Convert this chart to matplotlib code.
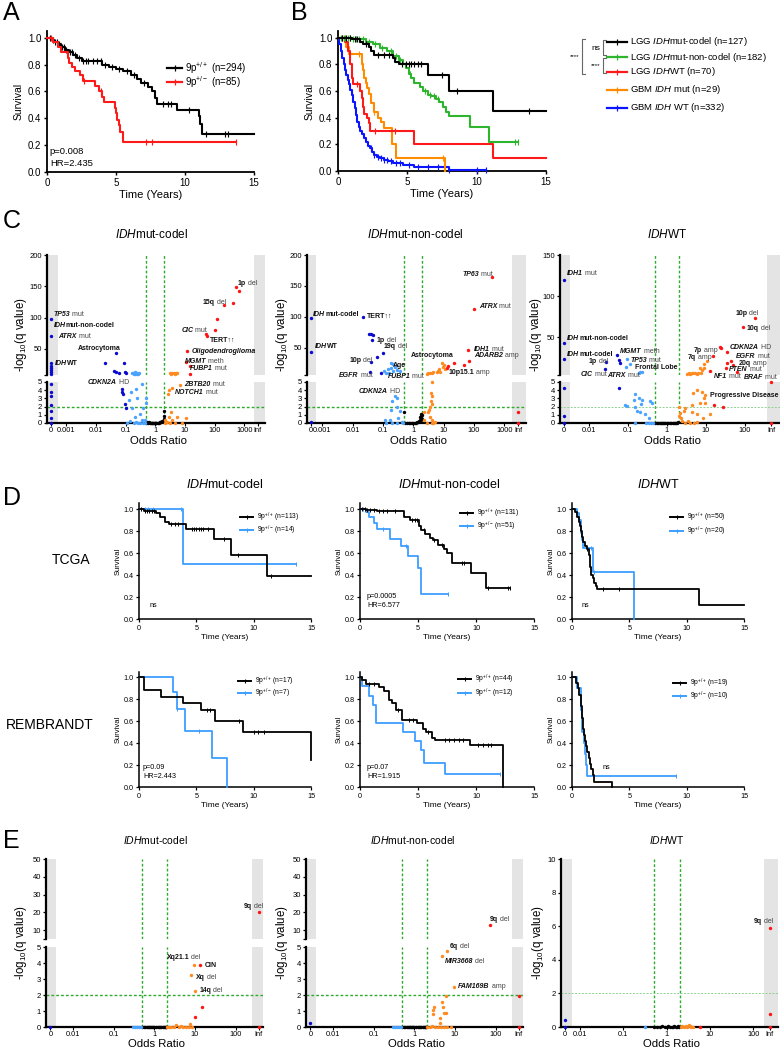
import numpy as np
import matplotlib
matplotlib.use('Agg')
import matplotlib.pyplot as plt
from matplotlib.lines import Line2D
from matplotlib.ticker import NullLocator

plt.rcParams['font.family'] = ['Liberation Sans', 'DejaVu Sans']
plt.rcParams['mathtext.fontset'] = 'custom'
plt.rcParams['mathtext.rm'] = 'Liberation Sans'
plt.rcParams['mathtext.it'] = 'Liberation Sans:italic'
plt.rcParams['mathtext.bf'] = 'Liberation Sans:bold'

# ======================= DATA =======================
# ---- Panel A (KM, 9p status, all LGG) ----
A_pp_t = [0, 0.3, 0.5, 0.8, 1.0, 1.3, 1.6, 1.9, 2.2, 2.5, 4.0, 4.5, 5.0, 5.5, 6.1, 6.5, 6.8, 7.3, 7.6, 7.8, 8.0, 9.4, 11.0, 11.1, 11.2]
A_pp_s = [1.0, 0.98, 0.97, 0.95, 0.93, 0.91, 0.89, 0.87, 0.85, 0.83, 0.80, 0.78, 0.77, 0.75, 0.72, 0.69, 0.66, 0.63, 0.60, 0.55, 0.51, 0.46, 0.42, 0.36, 0.285]
A_pp_end = 15.0
A_pp_c = [0.2, 0.4, 0.6, 0.7, 0.9, 1.1, 1.2, 1.4, 1.7, 1.8, 2.0, 2.3, 2.6, 2.8, 3.0, 3.3, 3.6, 3.9, 4.2, 4.7, 5.2, 5.8, 6.3, 7.0, 8.4, 8.8, 9.0, 10.3, 11.5, 12.9, 13.1]
A_pm_t = [0, 0.4, 0.8, 1.0, 1.5, 1.6, 1.8, 2.0, 2.4, 2.6, 3.5, 3.8, 4.0, 4.1, 4.9, 5.0, 5.1, 5.2, 5.3, 5.5]
A_pm_s = [1.0, 0.97, 0.93, 0.89, 0.85, 0.81, 0.78, 0.75, 0.72, 0.68, 0.64, 0.60, 0.56, 0.52, 0.48, 0.44, 0.39, 0.35, 0.30, 0.22]
A_pm_end = 13.7
A_pm_c = [0.3, 2.7, 3.9, 7.2, 7.6, 13.7]
A_labels = ['9p$^{+/+}$ (n=294)', '9p$^{+/-}$ (n=85)']

# ---- Panel B (KM, glioma subtypes) ----
B_codel_t = [0, 1.0, 1.6, 1.8, 2.2, 2.4, 2.6, 4.0, 4.1, 4.4, 6.5, 8.0, 11.2]
B_codel_s = [1.0, 0.99, 0.97, 0.95, 0.93, 0.90, 0.87, 0.85, 0.82, 0.80, 0.72, 0.60, 0.45]
B_codel_end = 15.0
B_codel_c = [0.3, 0.6, 0.9, 1.2, 1.4, 2.0, 2.9, 3.3, 3.7, 4.6, 4.9, 5.1, 5.3, 5.5, 5.8, 6.0, 7.5, 8.6, 13.8]
B_nonc_t = [0, 1.0, 2.0, 2.5, 3.0, 3.5, 4.0, 4.4, 4.7, 4.9, 5.1, 5.3, 5.5, 5.9, 6.1, 6.5, 6.7, 7.1, 7.3, 7.6, 7.8, 8.0, 9.5, 10.9]
B_nonc_s = [1.0, 0.99, 0.97, 0.95, 0.92, 0.90, 0.86, 0.83, 0.80, 0.77, 0.73, 0.70, 0.66, 0.63, 0.60, 0.57, 0.56, 0.54, 0.52, 0.48, 0.44, 0.41, 0.33, 0.22]
B_nonc_end = 13.0
B_nonc_c = [0.2, 0.4, 0.5, 0.7, 0.9, 1.1, 1.3, 1.5, 1.8, 2.2, 2.7, 3.2, 3.8, 4.2, 4.5, 5.2, 6.3, 6.6, 6.9, 7.2, 12.8, 13.0]
B_lwt_t = [0, 0.5, 0.7, 0.9, 1.0, 1.1, 1.6, 1.7, 1.8, 1.9, 2.1, 2.2, 2.3, 5.5, 11.2]
B_lwt_s = [1.0, 0.97, 0.90, 0.80, 0.70, 0.65, 0.60, 0.55, 0.48, 0.43, 0.40, 0.36, 0.30, 0.20, 0.10]
B_lwt_end = 15.0
B_lwt_c = [0.3, 1.4, 2.7, 4.1]
B_gmut_t = [0, 0.6, 0.8, 1.7, 1.8, 1.9, 2.0, 2.1, 2.2, 2.4, 2.6, 2.9, 3.1, 3.3, 3.9, 4.2, 7.7]
B_gmut_s = [1.0, 0.93, 0.88, 0.80, 0.76, 0.70, 0.66, 0.62, 0.58, 0.51, 0.44, 0.40, 0.37, 0.32, 0.20, 0.10, 0.0]
B_gmut_end = 7.7
B_gmut_c = [1.5, 2.6, 7.6]
B_gwt_t = [0, 0.1, 0.2, 0.3, 0.4, 0.5, 0.6, 0.7, 0.8, 0.9, 1.0, 1.1, 1.2, 1.3, 1.4, 1.5, 1.6, 1.7, 1.85, 2.0, 2.15, 2.3, 2.45, 2.6, 2.8, 3.0, 3.3, 3.6, 4.0, 4.7, 5.5, 8.0]
B_gwt_s = [1.0, 0.95, 0.90, 0.85, 0.80, 0.76, 0.72, 0.68, 0.65, 0.61, 0.57, 0.52, 0.47, 0.42, 0.37, 0.33, 0.30, 0.28, 0.25, 0.22, 0.19, 0.17, 0.145, 0.12, 0.105, 0.095, 0.085, 0.075, 0.06, 0.045, 0.03, 0.01]
B_gwt_end = 10.7
B_gwt_c = [2.4, 2.6, 2.9, 3.1, 3.3, 3.5, 3.8, 4.2, 4.5, 5.1, 5.8, 6.5, 7.2, 8.0, 10.0, 10.7]
B_labels = ['LGG $\\it{IDH}$mut-codel (n=127)', 'LGG $\\it{IDH}$mut-non-codel (n=182)',
            'LGG $\\it{IDH}$WT (n=70)', 'GBM $\\it{IDH}$ mut (n=29)', 'GBM $\\it{IDH}$ WT (n=332)']

# ---- Panel D (KM by subtype; k = 9p+/+, b = 9p+/-) ----
D1_k_t = [0, 0.4, 1.5, 1.8, 2.3, 2.6, 4.1, 6.5, 8.0, 11.2]
D1_k_s = [1.0, 0.985, 0.96, 0.925, 0.885, 0.86, 0.82, 0.73, 0.58, 0.39]
D1_k_end = 15.0
D1_k_c = [0.2, 0.5, 0.7, 0.9, 1.1, 1.3, 2.8, 3.1, 3.4, 4.6, 4.8, 5.0, 5.2, 5.4, 5.6, 6.0, 7.4, 8.6, 11.5]
D1_b_t = [0, 3.8]
D1_b_s = [1.0, 0.5]
D1_b_end = 13.7
D1_b_c = [0.2, 0.5, 0.8, 1.2, 3.7, 13.7]
D1_labels = ['9p$^{+/+}$ (n=113)', '9p$^{+/-}$ (n=14)']

D2_k_t = [0, 0.5, 1.5, 3.8, 4.3, 5.1, 5.3, 5.6, 6.0, 6.3, 6.7, 7.2, 7.5, 7.9, 9.6, 10.9]
D2_k_s = [1.0, 0.99, 0.98, 0.93, 0.90, 0.85, 0.81, 0.77, 0.74, 0.72, 0.67, 0.64, 0.60, 0.51, 0.415, 0.28]
D2_k_end = 12.95
D2_k_c = [0.2, 0.4, 0.6, 0.9, 1.2, 1.6, 2.0, 2.3, 3.0, 4.5, 4.7, 4.9, 5.5, 6.4, 7.1, 8.8, 9.0, 11.0, 12.8, 12.95]
D2_b_t = [0, 0.5, 0.8, 1.2, 1.5, 2.6, 3.5, 4.1, 5.0, 5.25]
D2_b_s = [1.0, 0.97, 0.93, 0.87, 0.82, 0.73, 0.66, 0.57, 0.46, 0.23]
D2_b_end = 7.6
D2_b_c = [0.3, 2.0, 4.0, 7.6]
D2_labels = ['9p$^{+/+}$ (n=131)', '9p$^{+/-}$ (n=51)']

D3_k_t = [0, 0.3, 0.44, 0.6, 0.72, 0.8, 0.87, 1.0, 1.1, 1.3, 1.45, 1.55, 1.6, 1.7, 1.83, 1.94, 2.05, 2.2, 11.1]
D3_k_s = [1.0, 0.97, 0.93, 0.88, 0.85, 0.80, 0.75, 0.70, 0.66, 0.64, 0.58, 0.52, 0.47, 0.40, 0.37, 0.33, 0.30, 0.27, 0.13]
D3_k_end = 15.0
D3_k_c = [1.3, 2.7, 4.1]
D3_b_t = [0, 0.4, 0.6, 0.75, 0.8, 0.9, 0.95, 1.8, 5.45]
D3_b_s = [1.0, 0.96, 0.90, 0.82, 0.78, 0.72, 0.65, 0.43, 0.0]
D3_b_end = 5.45
D3_b_c = [1.7, 1.9]
D3_labels = ['9p$^{+/+}$ (n=50)', '9p$^{+/-}$ (n=20)']

D4_k_t = [0, 0.45, 1.9, 3.8, 5.4, 6.6, 9.1, 15.0]
D4_k_s = [1.0, 0.88, 0.82, 0.76, 0.70, 0.60, 0.50, 0.25]
D4_k_end = 15.0
D4_k_c = [5.9, 6.2, 8.7, 10.0, 10.4, 10.9]
D4_b_t = [0, 3.0, 3.3, 4.0, 6.4, 7.7]
D4_b_s = [1.0, 0.86, 0.71, 0.51, 0.26, 0.0]
D4_b_end = 7.7
D4_b_c = [3.3, 5.2]
D4_labels = ['9p$^{+/+}$ (n=17)', '9p$^{+/-}$ (n=7)']

D5_k_t = [0, 0.2, 0.5, 1.6, 2.1, 2.5, 2.8, 3.1, 3.6, 4.9, 5.4, 5.7, 6.2, 6.5, 9.5, 12.3]
D5_k_s = [1.0, 0.97, 0.94, 0.91, 0.87, 0.79, 0.76, 0.70, 0.61, 0.58, 0.53, 0.50, 0.45, 0.43, 0.38, 0.0]
D5_k_end = 12.3
D5_k_c = [0.8, 1.2, 3.3, 4.2, 4.6, 5.9, 7.3, 7.7, 8.1, 8.5, 8.9, 10.2, 10.6, 11.0, 11.3]
D5_b_t = [0, 0.2, 0.8, 1.1, 1.36, 3.7, 4.7, 5.3, 5.5, 7.3]
D5_b_s = [1.0, 0.92, 0.83, 0.75, 0.58, 0.50, 0.42, 0.34, 0.22, 0.12]
D5_b_end = 12.1
D5_b_c = [12.1]
D5_labels = ['9p$^{+/+}$ (n=44)', '9p$^{+/-}$ (n=12)']

D6_k_t = [0, 0.35, 0.55, 0.65, 0.75, 0.8, 0.85, 0.9, 0.95, 1.0, 1.05, 1.1, 1.2, 1.35, 1.45, 1.6, 1.7, 1.8, 1.95, 3.5]
D6_k_s = [1.0, 0.95, 0.90, 0.84, 0.79, 0.74, 0.68, 0.63, 0.58, 0.53, 0.47, 0.42, 0.37, 0.32, 0.26, 0.21, 0.16, 0.11, 0.05, 0.0]
D6_k_end = 3.5
D6_k_c = []
D6_b_t = [0, 0.45, 0.75, 0.8, 0.85, 0.9, 1.05, 1.1, 1.2, 1.3]
D6_b_s = [1.0, 0.9, 0.8, 0.7, 0.6, 0.5, 0.4, 0.3, 0.2, 0.1]
D6_b_end = 9.1
D6_b_c = [9.1]
D6_labels = ['9p$^{+/+}$ (n=19)', '9p$^{+/-}$ (n=10)']

# ---- Panel C volcano plots (odds ratio, -log10 q); 0 and inf are real OR values ----
inf = np.inf
C1_D_or = [0, 0, 0, 0, 0, 0, 0, 0, 0, 0, 0, 0, 0, 0, 0, 0.049, 0.0196, 0.091, 0.040, 0.046, 0.061, 0.093, 0.105, 0.075, 0.077, 0.080, 0.095, 0.105]
C1_D_q = [98, 70, 27, 23, 19, 16, 13, 10, 4.8, 3.8, 3.3, 2.2, 1.5, 0.6, 0, 43, 27, 27, 14, 13, 12, 13, 11, 4.2, 3.8, 3.55, 2.3, 1.8]
C1_L_or = [0.16, 0.18, 0.20, 0.21, 0.23, 0.25, 0.27, 0.29, 0.19, 0.24, 0.35, 0.23, 0.15, 0.49, 0.48, 0.24, 0.126, 0.40, 0.16, 0.31, 0.20, 0.35, 0.46, 0.19, 0.27, 0.40, 0.11, 0.45, 0.30, 0.14, 0.22]
C1_L_q = [11, 12, 10, 13, 11, 12, 10, 11, 9, 9, 4.75, 4.1, 3.8, 3.0, 2.4, 3.0, 2.8, 1.8, 1.8, 1.15, 0.75, 0.35, 0.4, 0.05, 0, 0, 0, 0, 0, 0.2, 0.1]
C1_K_or = [0.50, 0.52, 0.55, 0.60, 0.65, 0.70, 0.75, 0.80, 0.85, 0.90, 0.95, 1.00, 1.05, 1.10, 1.20, 1.30, 1.40, 1.50, 1.60, 1.70, 1.80, 1.90, 1.95, 1.98]
C1_K_q = [0.02, 0.10, 0.05, 0.08, 0.03, 0.00, 0.05, 0.02, 0.00, 0.04, 0.00, 0.02, 0.00, 0.03, 0.00, 0.05, 0.08, 0.10, 0.15, 0.20, 0.30, 0.50, 0.90, 1.45]
C1_O_or = [3.2, 3.5, 3.8, 4.2, 4.6, 5.0, 5.4, 6.9, 3.8, 2.8, 2.7, 3.4, 2.8, 3.8, 5.4, 10.8, 2.5, 3.2, 4.7, 7.9, 2.2, 2.1]
C1_O_q = [11, 10, 12, 11, 10, 12, 11, 4.67, 4.3, 4.05, 3.55, 1.36, 0.75, 0.33, 0.75, 0.6, 0.1, 0, 0, 0, 0.4, 0.05]
C1_R_or = [525, 676, 213, 407, 123, 100, 52, 55, 11.7, 11.0, 15.0, 15.0]
C1_R_q = [149, 142, 120, 124, 97, 80, 74, 70, 46, 29, 22, 10]

C2_D_or = [0, 0, 0, 0.0224, 0.035, 0.040, 0.046, 0.045, 0.100, 0.065, 0.040, 0.037, 0.084]
C2_D_q = [97.5, 43.5, 0.1, 99, 72, 72, 71, 62, 42, 35.5, 27, 11, 8.5]
C2_L_or = [0.18, 0.22, 0.15, 0.11, 0.28, 0.36, 0.21, 0.18, 0.25, 0.13, 0.16, 0.25, 0.30, 0.20, 0.30, 0.36, 0.18, 0.116, 0.13, 0.20, 0.28, 0.41, 0.47, 0.32, 0.17]
C2_L_q = [25, 23, 15.5, 12, 14, 12, 13, 18, 19, 10, 9, 3.35, 3.0, 2.7, 2.0, 1.45, 1.57, 0.33, 0, 0, 0, 0.15, 0, 0.66, 0.4]
C2_K_or = [0.50, 0.55, 0.60, 0.70, 0.80, 0.90, 1.00, 1.10, 1.20, 1.30, 1.40, 1.50, 1.60, 1.66, 1.70, 1.75, 1.80, 1.85, 1.90, 1.95]
C2_K_q = [1.35, 0.02, 0.05, 0.00, 0.03, 0.00, 0.05, 0.02, 0.06, 0.10, 0.15, 0.20, 0.30, 0.75, 0.40, 1.15, 0.60, 0.90, 1.00, 0.50]
C2_O_or = [8.6, 10.0, 7.2, 5.9, 3.1, 4.0, 4.6, 7.5, 9.3, 11.0, 3.5, 6.5, 2.8, 4.0, 3.8, 4.2, 3.8, 4.0, 3.5, 3.3, 3.1, 3.5, 4.2, 2.75, 4.0, 2.3, 2.2, 4.5, 5.0]
C2_O_q = [25, 22, 16.5, 11, 10, 10, 11, 11, 19, 16.5, 9, 13, 8, 4.96, 3.6, 3.35, 2.7, 2.3, 2.0, 1.6, 1.36, 0.75, 0.33, 0, 0, 0.4, 1.36, 0, 0.1]
C2_R_or = [380, 100, 62, 67, 47, 22, 12.5, 13.5, inf, inf]
C2_R_q = [164, 112, 47, 29, 22, 25, 17, 20, 1.36, 0]

C3_D_or = [0, 0, 0, 0, 0, 0, 0.052, 0.060, 0.064, 0.028, 0.026, 0.060]
C3_D_q = [120, 42.7, 24, 4.25, 0.8, 0, 28.4, 22, 18, 20, 11, 4.3]
C3_L_or = [0.094, 0.115, 0.090, 0.19, 0.21, 0.23, 0.155, 0.19, 0.14, 0.23, 0.37, 0.41, 0.22, 0.085, 0.095, 0.155, 0.17, 0.21, 0.28, 0.34, 0.155, 0.30, 0.35, 0.40, 0.45]
C3_L_q = [23.5, 17, 14, 7, 8, 7.5, 3.54, 3.0, 2.75, 2.8, 2.7, 2.4, 2.3, 2.2, 2.1, 1.9, 1.5, 1.4, 1.05, 0.55, 0, 0, 0, 0, 0]
C3_K_or = [0.50, 0.55, 0.60, 0.65, 0.70, 0.75, 0.80, 0.85, 0.90, 1.00, 1.10, 1.20, 1.30, 1.40, 1.50, 1.60, 1.70, 1.80, 1.90]
C3_K_q = [0, 0.02, 0, 0.03, 0, 0.02, 0, 0.01, 0, 0.02, 0, 0.03, 0, 0.02, 0, 0.04, 0.02, 0.05, 0.08]
C3_O_or = [3.6, 4.4, 5.3, 6.2, 7.6, 8.7, 7.9, 9.2, 10.6, 7.2, 4.0, 4.8, 5.9, 3.2, 5.9, 7.9, 9.6, 4.8, 8.7, 7.2, 9.6, 4.5, 2.95, 2.7, 4.4, 5.9, 8.4, 12.9, 2.1, 2.2, 2.3, 2.5, 3.0, 3.5, 4.0, 5.0, 6.0, 2.05]
C3_O_q = [6, 6, 6.5, 7, 7, 13, 10, 17, 21, 13, 5.8, 6, 5.5, 5.8, 4.0, 3.8, 3.4, 3.6, 3.0, 2.4, 2.4, 2.2, 1.8, 1.5, 1.4, 1.05, 0.55, 1.1, 2.0, 1.2, 0.6, 0.2, 0, 0.3, 0, 0, 0.1, 0.9]
C3_R_or = [177, 87, 22.4, 24, 35, 35, 45, 51, 33, 62, 14.8, 12.9, 16.6, 28, inf, inf]
C3_R_q = [73, 63, 37.8, 36.5, 31.6, 18.6, 21.4, 16.5, 13, 7.1, 27.5, 9, 2.2, 2.0, 5.0, 0]

# ---- Panel E volcano plots (9p status associations) ----
E1_D_or = [0]
E1_D_q = [0]
E1_L_or = [0.30, 0.34, 0.38, 0.42, 0.46]
E1_L_q = [0, 0, 0, 0, 0]
E1_K_or = [0.50, 0.55, 0.60, 0.65, 0.70, 0.75, 0.80, 0.85, 0.90, 0.95, 1.00, 1.10, 1.20, 1.30, 1.40, 1.50, 1.60, 1.70, 1.80, 1.90, 1.95]
E1_K_q = [0, 0.01, 0, 0.02, 0, 0.01, 0, 0.02, 0, 0.01, 0, 0.02, 0, 0.01, 0, 0.02, 0, 0.01, 0, 0.02, 0]
E1_O_or = [9.6, 8.0, 10.0, 7.5, 3.5, 2.1, 2.3, 2.6, 3.0, 4.0, 4.5, 5.0, 6.0, 7.0, 8.5]
E1_O_q = [3.86, 3.24, 2.27, 0.21, 0.10, 0, 0, 0.03, 0, 0, 0.05, 0, 0, 0, 0]
E1_R_or = [inf, 13.2, 15.1, 10.0, inf]
E1_R_q = [20.2, 3.86, 1.22, 0.62, 0]

E2_D_or = [0]
E2_D_q = [0.25]
E2_L_or = [0.30, 0.34, 0.38, 0.42, 0.46]
E2_L_q = [0, 0, 0, 0, 0]
E2_K_or = [0.50, 0.55, 0.60, 0.65, 0.70, 0.75, 0.80, 0.85, 0.90, 0.95, 1.00, 1.10, 1.20, 1.30, 1.40, 1.50, 1.60, 1.70, 1.80, 1.90, 1.95]
E2_K_q = [0, 0.01, 0, 0.02, 0, 0.01, 0, 0.02, 0, 0.01, 0, 0.02, 0, 0.01, 0, 0.02, 0, 0.01, 0, 0.02, 0]
E2_O_or = [6.3, 4.9, 9.3, 6.0, 4.7, 4.97, 3.1, 2.9, 2.8, 5.4, 5.9, 4.3, 4.4, 2.1, 2.4, 2.7, 3.3, 3.8, 4.6, 5.5, 6.5, 8.0]
E2_O_q = [4.75, 4.42, 2.5, 1.94, 1.55, 1.22, 1.28, 1.07, 0.8, 0.87, 0.87, 0.56, 0.25, 0, 0, 0.05, 0, 0, 0, 0, 0, 0]
E2_R_or = [72, inf, inf]
E2_R_q = [13, 1.94, 0]

E3_D_or = [0, 0]
E3_D_q = [0.44, 0]
E3_L_or = [0.32]
E3_L_q = [0]
E3_K_or = [0.50, 0.60, 0.70, 0.80, 0.90, 1.00, 1.10, 1.20, 1.30, 1.40, 1.50, 1.60, 1.70, 1.80, 1.90]
E3_K_q = [0, 0.02, 0, 0.03, 0, 0.02, 0.04, 0, 0.02, 0, 0.03, 0, 0.02, 0.05, 0]
E3_O_or = [2.1, 2.3, 2.5, 2.8, 3.0, 3.3, 3.5, 3.7, 4.0]
E3_O_q = [0, 0.03, 0, 0.05, 0, 0.12, 0.05, 0, 0]
E3_R_or = [inf, inf, inf, 5.9]
E3_R_q = [5.88, 0.8, 0, 0]

# ======================= DRAWING =======================
W, H = 780, 1050
fig = plt.figure(figsize=(W / 100, H / 100), dpi=100)


def fx(x):
    return x / W


def fy(y):
    return 1 - y / H


def add_ax(x0, y0, x1, y1):
    return fig.add_axes([x0 / W, 1 - y1 / H, (x1 - x0) / W, (y1 - y0) / H])


def fig_line(xs, ys, **kw):
    fig.add_artist(Line2D([fx(x) for x in xs], [fy(y) for y in ys], **kw))


def fig_text(x, y, s, **kw):
    fig.text(fx(x), fy(y), s, **kw)


def km(ax, t, s, t_end, cens, color, lw, ms):
    tt = list(t) + [t_end]
    ss = list(s) + [s[-1]]
    ax.step(tt, ss, where='post', color=color, lw=lw, clip_on=False, zorder=3)
    if len(cens):
        idx = np.searchsorted(np.array(t), np.array(cens), side='right') - 1
        ax.plot(cens, np.array(s)[idx], ls='none', marker='|', ms=ms, mew=lw * 0.55,
                color=color, clip_on=False, zorder=3)


def km_axes(ax, tick_fs, lab_fs, xlab_fs, lw, ylabpad):
    ax.set_xlim(0, 15)
    ax.set_ylim(0, 1.05)
    ax.set_xticks([0, 5, 10, 15])
    ax.set_yticks([0, 0.2, 0.4, 0.6, 0.8, 1.0])
    ax.set_yticklabels(['0.0', '0.2', '0.4', '0.6', '0.8', '1.0'])
    for sp in ['top', 'right']:
        ax.spines[sp].set_visible(False)
    for sp in ['left', 'bottom']:
        ax.spines[sp].set_linewidth(lw)
    ax.tick_params(width=lw * 0.8, length=2.5, labelsize=tick_fs, pad=1.5)
    ax.set_ylabel('Survival', fontsize=lab_fs, labelpad=ylabpad)
    ax.set_xlabel('Time (Years)', fontsize=xlab_fs, labelpad=2)


def km_legend(labels, colors, x0, ys, length, fs, lw, ms, gap=3):
    for lab, col, y in zip(labels, colors, ys):
        fig_line([x0, x0 + length], [y, y], color=col, lw=lw)
        fig.add_artist(Line2D([fx(x0 + length / 2)], [fy(y)], color=col, marker='|', ms=ms, mew=lw * 0.55))
        fig_text(x0 + length + gap, y, lab, fontsize=fs, va='center', ha='left')


RED, GREEN_KM, ORANGE, BLUE, LBLUE = '#ff1a1a', '#2db52d', '#ff8c00', '#0a14ff', '#3d9eff'

# ---------------- Panel A ----------------
axA = add_ax(47, 31, 254, 172)
km(axA, A_pp_t, A_pp_s, A_pp_end, A_pp_c, 'black', 1.5, 4.5)
km(axA, A_pm_t, A_pm_s, A_pm_end, A_pm_c, RED, 1.5, 4.5)
km_axes(axA, 7, 7.5, 8, 1.3, 3)
axA.text(0.2, 0.15, 'p=0.008', fontsize=6.8, va='center')
axA.text(0.2, 0.065, 'HR=2.435', fontsize=6.8, va='center')
km_legend(A_labels, ['black', RED], 167, [68, 82], 15, 7, 1.6, 4.5)

# ---------------- Panel B ----------------
axB = add_ax(338, 31, 546, 171)
km(axB, B_gwt_t, B_gwt_s, B_gwt_end, B_gwt_c, BLUE, 1.5, 4)
km(axB, B_gmut_t, B_gmut_s, B_gmut_end, B_gmut_c, ORANGE, 1.5, 4)
km(axB, B_lwt_t, B_lwt_s, B_lwt_end, B_lwt_c, RED, 1.5, 4)
km(axB, B_nonc_t, B_nonc_s, B_nonc_end, B_nonc_c, GREEN_KM, 1.5, 4)
km(axB, B_codel_t, B_codel_s, B_codel_end, B_codel_c, 'black', 1.5, 4)
km_axes(axB, 7, 7.5, 8, 1.3, 3)
km_legend(B_labels, ['black', GREEN_KM, RED, ORANGE, BLUE], 607, [42, 57, 72, 90, 108], 20, 6.8, 1.6, 4.5)
brc = '#666666'
fig_line([606, 603, 603, 606], [40, 40, 55, 55], color=brc, lw=0.8)
fig_text(600, 48, 'ns', ha='right', va='center', fontsize=6)
fig_line([606, 603, 603, 606], [58, 58, 73, 73], color=brc, lw=0.8)
fig_text(600, 66, '****', ha='right', va='center', fontsize=4.5)
fig_line([585, 582, 582, 585], [39, 39, 74, 74], color=brc, lw=0.8)
fig_text(579, 57, '****', ha='right', va='center', fontsize=4.5)

# ---------------- Panel letters ----------------
for L, x, y in [('A', 3, 13), ('B', 291, 13), ('C', 3, 221), ('D', 3, 498), ('E', 3, 841)]:
    fig_text(x, y, L, fontsize=18, ha='left', va='center')

# ---------------- Volcano helpers ----------------
VCOL = {'D': '#0b0bd0', 'L': '#4aa3ff', 'K': '#000000', 'O': '#ff8a1f', 'R': '#ff1414'}
GREEN = '#2eaa2e'


def xval(v, uZ, uI):
    if v == 0:
        return 10 ** uZ
    if np.isinf(v):
        return 10 ** uI
    return v


def lab(ax, u, q, parts, fs=5.0):
    prev = None
    for txt, bold, ital in parts:
        kw = dict(fontsize=fs, fontweight='bold' if bold else 'normal',
                  fontstyle='italic' if ital else 'normal',
                  color='#111111' if bold else '#444444', va='center', ha='left', zorder=6)
        if prev is None:
            prev = ax.text(10 ** u, q, txt, clip_on=False, **kw)
        else:
            prev = ax.annotate(txt, xy=(1, 0.5), xycoords=prev, xytext=(0, 0),
                               textcoords='offset points', annotation_clip=False, **kw)


def G(gene, rest):
    return [(gene, True, True), (rest, False, False)]


def B(txt, rest=''):
    return [(txt, True, False)] + ([(rest, False, False)] if rest else [])


def IDHp(rest):
    return [('IDH', True, True), (rest, True, False)]


def volcano(px, top_y, bot_y, geo, groups, top_lim, top_ticks, bot_lim, bot_ticks, xt, xlab_y, light=False):
    uL, uR, uZ, uI, bL, bR = geo
    x0, x1 = px
    axs = {}
    if top_y is not None:
        axs['t'] = add_ax(x0, top_y[0], x1, top_y[1])
    axs['b'] = add_ax(x0, bot_y[0], x1, bot_y[1])
    gl_c = '#8fd18f' if light else GREEN
    for k, a in axs.items():
        a.set_xscale('log')
        a.set_xlim(10 ** uL, 10 ** uR)
        a.axvspan(10 ** uL, 10 ** bL, color='#e4e4e4', lw=0, zorder=0)
        a.axvspan(10 ** bR, 10 ** uR, color='#e4e4e4', lw=0, zorder=0)
        for v in (0.5, 2):
            a.axvline(v, color=GREEN, ls=(0, (2.0, 1.5)), lw=1.0, zorder=1)
        a.spines['top'].set_visible(False)
        a.spines['right'].set_visible(False)
        a.spines['left'].set_linewidth(1.6)
        a.spines['bottom'].set_linewidth(1.6)
        a.xaxis.set_minor_locator(NullLocator())
        a.yaxis.set_minor_locator(NullLocator())
        a.tick_params(axis='y', labelsize=5.5, length=2.5, width=0.9, pad=1)
        a.tick_params(axis='x', labelsize=5.3, length=2.0, width=0.8, pad=1.0)
        a.set_facecolor('none')
    if 't' in axs:
        a = axs['t']
        a.set_ylim(*top_lim)
        a.set_yticks([top_lim[0]] + top_ticks)
        a.set_yticklabels([''] + [str(v) for v in top_ticks])
        a.spines['bottom'].set_visible(False)
        a.tick_params(axis='x', bottom=False, labelbottom=False)
    a = axs['b']
    a.set_ylim(*bot_lim)
    a.set_yticks(bot_ticks)
    a.set_yticklabels([str(v) for v in bot_ticks])
    if 't' in axs:
        a.spines['top'].set_visible(False)
    a.axhline(2, color=gl_c, ls=(0, (2.0, 1.5)), lw=0.7 if light else 1.0, zorder=1)
    tpos = [10 ** uZ if v == 0 else (10 ** uI if np.isinf(v) else v) for v in xt]
    tlab = ['0' if v == 0 else ('Inf' if np.isinf(v) else ('%g' % v)) for v in xt]
    a.set_xticks(tpos)
    a.set_xticklabels(tlab)
    fig_text((x0 + x1) / 2 + 2, xlab_y, 'Odds Ratio', fontsize=8.2, ha='center', va='center')
    for code in ['K', 'L', 'O', 'D', 'R']:
        if code not in groups:
            continue
        ors, qs = groups[code]
        xs = np.array([xval(v, uZ, uI) for v in ors])
        qs = np.array(qs, dtype=float)
        if 't' in axs:
            m = qs > 5.05
            axs['t'].scatter(xs[m], qs[m], s=6, color=VCOL[code], lw=0, zorder=4, clip_on=False)
            mb = ~m
        else:
            mb = np.ones(len(qs), bool)
        axs['b'].scatter(xs[mb], qs[mb], s=6, color=VCOL[code], lw=0, zorder=4, clip_on=False)
    return axs


def ylab_v(x, y, fs=8.3):
    fig_text(x, y, '-log$_{10}$(q value)', rotation=90, fontsize=fs, ha='center', va='center')


XT_C12 = [0, 0.001, 0.01, 0.1, 1, 10, 100, 1000, inf]
XT_3 = [0, 0.01, 0.1, 1, 10, 100, inf]

# ---------------- Panel C ----------------
for x, s in [(152, '$\\it{IDH}$mut-codel'), (415, '$\\it{IDH}$mut-non-codel'), (667, '$\\it{IDH}$WT')]:
    fig_text(x, 235, s, fontsize=8.5, ha='center', va='center')

c1 = volcano((47, 265), (255, 375), (382, 423), (-3.65, 3.7, -3.52, 3.45, -3.29, 3.34),
             {'D': (C1_D_or, C1_D_q), 'L': (C1_L_or, C1_L_q), 'K': (C1_K_or, C1_K_q),
              'O': (C1_O_or, C1_O_q), 'R': (C1_R_or, C1_R_q)},
             (8, 200), [50, 100, 150, 200], (0, 5), [0, 1, 2, 3, 4, 5], XT_C12, 441)
c2 = volcano((307, 526), (255, 375), (382, 423), (-3.5, 3.71, -3.38, 3.46, -3.19, 3.26),
             {'D': (C2_D_or, C2_D_q), 'L': (C2_L_or, C2_L_q), 'K': (C2_K_or, C2_K_q),
              'O': (C2_O_or, C2_O_q), 'R': (C2_R_or, C2_R_q)},
             (6, 200), [50, 100, 150, 200], (0, 5), [0, 1, 2, 3, 4, 5], XT_C12, 441)
c3 = volcano((560, 780), (255, 375), (382, 423), (-2.74, 2.9, -2.65, 2.67, -2.48, 2.56),
             {'D': (C3_D_or, C3_D_q), 'L': (C3_L_or, C3_L_q), 'K': (C3_K_or, C3_K_q),
              'O': (C3_O_or, C3_O_q), 'R': (C3_R_or, C3_R_q)},
             (4, 150), [50, 100, 150], (0, 5), [0, 1, 2, 3, 4, 5], XT_3, 441, light=True)
ylab_v(21, 335)
ylab_v(282, 335)
ylab_v(536, 335)

# labels C1
t, b = c1['t'], c1['b']
lab(t, 2.79, 155, B('1p', ' del'))
lab(t, 1.61, 123.5, B('15q', ' del'))
lab(t, 0.88, 80, G('CIC', ' mut'))
lab(t, 1.83, 64, B('TERT\u2191\u2191'))
lab(t, 1.24, 46, [('Oligodendroglioma', True, True)])
lab(t, 0.99, 29, G('MGMT', ' meth'))
lab(t, 1.18, 18.5, G('FUBP1', ' mut'))
lab(b, 0.98, 4.67, G('ZBTB20', ' mut'))
lab(b, 0.67, 3.76, G('NOTCH1', ' mut'))
lab(t, -3.43, 105.5, G('TP53', ' mut'))
lab(t, -3.43, 88, IDHp('mut-non-codel'))
lab(t, -3.26, 69.6, G('ATRX', ' mut'))
lab(t, -2.62, 50, B('Astrocytoma'))
lab(t, -3.37, 27, IDHp('WT'))
lab(b, -2.28, 5.0, G('CDKN2A', ' HD'))

# labels C2
t, b = c2['t'], c2['b']
lab(t, -3.30, 104, IDHp('mut-codel'))
lab(t, -3.24, 51.6, IDHp('WT'))
lab(t, -1.52, 100, B('TERT\u2191\u2191'))
lab(t, -1.21, 62, B('1p', ' del'))
lab(t, -0.97, 51.6, B('19q', ' del'))
lab(t, -2.11, 30, B('10p', ' del'))
lab(t, -2.44, 5.0, G('EGFR', ' mut'))
lab(t, -0.66, 22, B('Age'))
lab(t, -0.85, 3.0, G('FUBP1', ' mut'))
lab(t, -0.09, 37, B('Astrocytoma'))
lab(t, 1.62, 168.7, G('TP63', ' mut'))
lab(t, 2.16, 117.5, G('ATRX', ' mut'))
lab(t, 2.01, 47.3, G('IDH1', ' mut'))
lab(t, 2.01, 37, G('ADARB2', ' amp'))
lab(t, 1.15, 9.5, B('10p15.1', ' amp'))
lab(b, -1.79, 3.84, G('CDKN2A', ' HD'))

# labels C3
t, b = c3['t'], c3['b']
lab(t, -2.56, 128, G('IDH1', ' mut'))
lab(t, -2.56, 48.8, IDHp('mut-non-codel'))
lab(t, -2.56, 28.8, IDHp('mut-codel'))
lab(t, -2.0, 20.6, B('1p', ' del'))
lab(t, -2.2, 5.0, G('CIC', ' mut'))
lab(t, -1.2, 32.4, G('MGMT', ' meth'))
lab(t, -0.94, 22, G('TP53', ' mut'))
lab(t, -0.81, 13.3, B('Frontal Lobe'))
lab(t, -1.52, 4.0, G('ATRX', ' mut'))
lab(t, 0.68, 33.7, B('7p', ' amp'))
lab(t, 0.54, 25.5, B('7q', ' amp'))
lab(t, 1.75, 78.6, B('10p', ' del'))
lab(t, 2.05, 60, B('10q', ' del'))
lab(t, 1.62, 37, G('CDKN2A', ' HD'))
lab(t, 1.78, 26.7, G('EGFR', ' mut'))
lab(t, 1.85, 18, B('20q', ' amp'))
lab(t, 1.6, 10.4, G('PTEN', ' mut'))
lab(b, 1.21, 5.7, G('NF1', ' mut'))
lab(b, 1.98, 5.5, G('BRAF', ' mut'))
lab(b, 1.11, 3.4, B('Progressive Disease'))

# ---------------- Panel D ----------------
for x, s in [(225, '$\\it{IDH}$mut-codel'), (449, '$\\it{IDH}$mut-non-codel'), (658, '$\\it{IDH}$WT')]:
    fig_text(x, 484, s, fontsize=9, ha='center', va='center')
fig_text(71, 560, 'TCGA', fontsize=10, ha='center', va='center')
fig_text(50, 725, 'REMBRANDT', fontsize=10, ha='center', va='center')

Dspec = [
    ((139, 503.5, 311, 619), D1_k_t, D1_k_s, D1_k_end, D1_k_c, D1_b_t, D1_b_s, D1_b_end, D1_b_c, D1_labels, (240, [517, 530])),
    ((360, 503.5, 534, 619), D2_k_t, D2_k_s, D2_k_end, D2_k_c, D2_b_t, D2_b_s, D2_b_end, D2_b_c, D2_labels, (460, [513, 526])),
    ((572, 503.5, 744, 619), D3_k_t, D3_k_s, D3_k_end, D3_k_c, D3_b_t, D3_b_s, D3_b_end, D3_b_c, D3_labels, (670, [517, 531])),
    ((139, 671.5, 311, 787), D4_k_t, D4_k_s, D4_k_end, D4_k_c, D4_b_t, D4_b_s, D4_b_end, D4_b_c, D4_labels, (238, [681, 693])),
    ((360, 671.5, 534, 787), D5_k_t, D5_k_s, D5_k_end, D5_k_c, D5_b_t, D5_b_s, D5_b_end, D5_b_c, D5_labels, (458, [679, 693])),
    ((572, 671.5, 744, 787), D6_k_t, D6_k_s, D6_k_end, D6_k_c, D6_b_t, D6_b_s, D6_b_end, D6_b_c, D6_labels, (673, [683, 696])),
]
daxes = []
for box, kt, ks, ke, kc, bt, bs, be, bc, labs, (lx, lys) in Dspec:
    ax = add_ax(*box)
    km(ax, bt, bs, be, bc, LBLUE, 1.3, 3.2)
    km(ax, kt, ks, ke, kc, 'black', 1.3, 3.2)
    km_axes(ax, 5.2, 5.5, 6, 1.1, 1)
    km_legend(labs, ['black', LBLUE], lx, lys, 13, 4.8, 1.4, 3.2, gap=4)
    daxes.append(ax)

daxes[0].text(0.96, 0.12, 'ns', fontsize=5.2, va='center')
daxes[1].text(0.6, 0.20, 'p=0.0005', fontsize=5.2, va='center')
daxes[1].text(0.6, 0.127, 'HR=6.577', fontsize=5.2, va='center')
daxes[2].text(0.87, 0.12, 'ns', fontsize=5.2, va='center')
daxes[3].text(0.35, 0.18, 'p=0.09', fontsize=5.2, va='center')
daxes[3].text(0.35, 0.094, 'HR=2.443', fontsize=5.2, va='center')
daxes[4].text(0.6, 0.18, 'p=0.07', fontsize=5.2, va='center')
daxes[4].text(0.6, 0.094, 'HR=1.915', fontsize=5.2, va='center')
daxes[5].text(2.7, 0.18, 'ns', fontsize=5.2, va='center')

# ---------------- Panel E ----------------
for x, s in [(155, '$\\it{IDH}$mut-codel'), (413, '$\\it{IDH}$mut-non-codel'), (667, '$\\it{IDH}$WT')]:
    fig_text(x, 840, s, fontsize=7.5, ha='center', va='center')

e1 = volcano((46, 263), (859, 939), (947, 1027), (-2.66, 2.67, -2.55, 2.56, -2.41, 2.39),
             {'D': (E1_D_or, E1_D_q), 'L': (E1_L_or, E1_L_q), 'K': (E1_K_or, E1_K_q),
              'O': (E1_O_or, E1_O_q), 'R': (E1_R_or, E1_R_q)},
             (5, 50), [10, 20, 30, 40, 50], (0, 5), [0, 1, 2, 3, 4, 5], XT_3, 1044)
e2 = volcano((306, 523), (859, 939), (947, 1027), (-2.66, 2.67, -2.55, 2.56, -2.41, 2.39),
             {'D': (E2_D_or, E2_D_q), 'L': (E2_L_or, E2_L_q), 'K': (E2_K_or, E2_K_q),
              'O': (E2_O_or, E2_O_q), 'R': (E2_R_or, E2_R_q)},
             (5, 50), [10, 20, 30, 40, 50], (0, 5), [0, 1, 2, 3, 4, 5], XT_3, 1044)
e3 = volcano((561, 778), None, (859, 1027), (-2.44, 2.57, -2.35, 2.38, -2.19, 2.25),
             {'D': (E3_D_or, E3_D_q), 'L': (E3_L_or, E3_L_q), 'K': (E3_K_or, E3_K_q),
              'O': (E3_O_or, E3_O_q), 'R': (E3_R_or, E3_R_q)},
             None, None, (0, 10), [0, 2, 4, 6, 8, 10], XT_3, 1044, light=True)
ylab_v(21, 943)
ylab_v(282, 943)
ylab_v(538, 943)

lab(e1['t'], 2.19, 23, B('9q', ' del'))
lab(e1['b'], 0.30, 4.34, B('Xq21.1', ' del'))
lab(e1['b'], 1.25, 3.86, B('CIN'))
lab(e1['b'], 1.02, 3.12, B('Xq', ' del'))
lab(e1['b'], 1.10, 2.27, B('14q', ' del'))
lab(e2['t'], 1.86, 16.2, B('9q', ' del'))
lab(e2['b'], 0.88, 5.0, B('6q', ' del'))
lab(e2['b'], 0.75, 4.11, G('MIR3668', ' del'))
lab(e2['b'], 1.08, 2.5, G('FAM169B', ' amp'))
lab(e3['b'], 2.02, 6.27, B('9q', ' del'))

fig.savefig('out.png', dpi=100)
